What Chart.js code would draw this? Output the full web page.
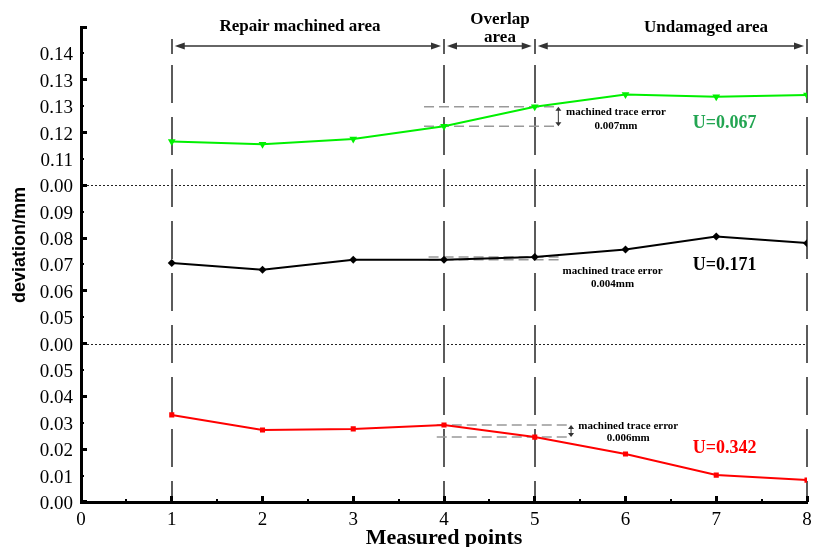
<!DOCTYPE html>
<html><head><meta charset="utf-8">
<script src="https://cdn.jsdelivr.net/npm/chart.js@4/dist/chart.umd.min.js"></script>
<style>html,body{margin:0;padding:0;background:#fff;}#wrap{width:819px;height:547px;}</style>
</head><body><div id="wrap"><canvas id="c" width="819" height="547"></canvas></div>
<script>
// ---- data ----
const points = [1, 2, 3, 4, 5, 6, 7, 8];
const greenVals = [0.1183, 0.1178, 0.1188, 0.1212, 0.1249, 0.1272, 0.1268, 0.1271];
const blackVals = [0.0706, 0.0680, 0.0718, 0.0718, 0.0728, 0.0757, 0.0806, 0.0781];
const redVals   = [0.0330, 0.0273, 0.0277, 0.0292, 0.0246, 0.0182, 0.0102, 0.0083];
const xTickValues = [0, 1, 2, 3, 4, 5, 6, 7, 8];
const topTickValues = [0.11, 0.115, 0.12, 0.125, 0.13, 0.135, 0.14];
const topTickLabels = ['', '0.11', '0.12', '0.13', '0.13', '0.14', ''];
const midTickValues = [0.04, 0.05, 0.06, 0.07, 0.08, 0.09, 0.10];
const midTickLabels = ['', '0.05', '0.06', '0.07', '0.08', '0.09', '0.00'];
const botTickValues = [0, 0.01, 0.02, 0.03, 0.04, 0.05, 0.06];
const botTickLabels = ['0.00', '0.01', '0.02', '0.03', '0.04', '0.05', '0.00'];
const regionBounds = [1, 4, 5, 8];
const regionNames = [['Repair machined area'], ['Overlap', 'area'], ['Undamaged area']];
const uLabels = ['U=0.067', 'U=0.171', 'U=0.342'];
const traceTitle = 'machined trace error';
const traceLabels = ['0.007mm', '0.004mm', '0.006mm'];
const xTitle = 'Measured points';
const yTitle = 'deviation/mm';

// ---- layout / style (not data) ----
const SERIF = "'Liberation Serif','Times New Roman',serif";
const SANS = "'Liberation Sans',Arial,sans-serif";
const GREEN = '#00f000', GREEN_TXT = '#23a552', RED = '#ff0000', BLACK = '#000000';
const regionLabelPos = [{x: 2.413, y: [27]}, {x: 4.617, y: [20, 38]}, {x: 6.887, y: [28]}];
const traceAnnots = [
  {axis: 'yTop', vals: greenVals, i: [4, 3], x1: 3.78, x2: 5.23, arrowX: 5.26, textX: 5.895, t1: 0.1238, t2: 0.1212},
  {axis: 'yMid', vals: blackVals, i: [4, 3], x1: 3.83, x2: 5.28, arrowX: null, textX: 5.857, t1: 0.0674, t2: 0.0627},
  {axis: 'yBot', vals: redVals, i: [3, 4], x1: 3.92, x2: 5.36, arrowX: 5.40, textX: 6.03, t1: 0.0288, t2: 0.0242}
];
const uPos = [
  {axis: 'yTop', x: 6.74, y: 0.1217, color: GREEN_TXT},
  {axis: 'yMid', x: 6.74, y: 0.0695, color: BLACK},
  {axis: 'yBot', x: 6.74, y: 0.0205, color: RED}
];

function mkY(vals, labels) {
  return {
    type: 'linear', position: 'left', stack: 'ystack', stackWeight: 1,
    min: vals[0], max: vals[vals.length - 1],
    afterBuildTicks: s => { s.ticks = vals.map(v => ({value: v})); },
    afterFit: s => { s.width = 81; },
    ticks: {callback: (v, i) => labels[i], font: {family: SERIF, size: 19}, color: '#000', padding: 8, autoSkip: false, labelOffset: 2},
    grid: {display: true, drawOnChartArea: false, drawTicks: false},
    border: {display: true, color: '#000', width: 3}
  };
}

function arrowHead(ctx, x, y, dir, len, half) {
  ctx.beginPath();
  if (dir === 'l') { ctx.moveTo(x, y); ctx.lineTo(x + len, y - half); ctx.lineTo(x + len, y + half); }
  if (dir === 'r') { ctx.moveTo(x, y); ctx.lineTo(x - len, y - half); ctx.lineTo(x - len, y + half); }
  if (dir === 'u') { ctx.moveTo(x, y); ctx.lineTo(x - half, y + len); ctx.lineTo(x + half, y + len); }
  if (dir === 'd') { ctx.moveTo(x, y); ctx.lineTo(x - half, y - len); ctx.lineTo(x + half, y - len); }
  ctx.closePath(); ctx.fill();
}

const decor = {
  id: 'decor',
  beforeDatasetsDraw(chart) {
    const {ctx, chartArea: a, scales} = chart;
    const x = scales.x;
    ctx.save();
    // break lines
    ctx.setLineDash([2, 2]); ctx.strokeStyle = '#222'; ctx.lineWidth = 1;
    [scales.yTop.getPixelForValue(scales.yTop.min), scales.yBot.getPixelForValue(scales.yBot.max)].forEach(py => {
      const yy = Math.round(py) + 0.5;
      ctx.beginPath(); ctx.moveTo(a.left + 2, yy); ctx.lineTo(a.right, yy); ctx.stroke();
    });
    // vertical region lines: end bars + dashed guides
    ctx.strokeStyle = '#4a4a4a'; ctx.lineWidth = 1.8;
    regionBounds.forEach(b => {
      const px = Math.round(x.getPixelForValue(b));
      ctx.setLineDash([]);
      ctx.beginPath(); ctx.moveTo(px, 39); ctx.lineTo(px, 54); ctx.stroke();
      ctx.setLineDash([38, 14]);
      ctx.beginPath(); ctx.moveTo(px, 65); ctx.lineTo(px, a.bottom); ctx.stroke();
    });
    // trace annotation dashed lines
    ctx.setLineDash([10, 5]); ctx.strokeStyle = '#999'; ctx.lineWidth = 1.5;
    traceAnnots.forEach(t => {
      const ys = scales[t.axis];
      t.i.forEach(k => {
        const py = ys.getPixelForValue(t.vals[k]);
        ctx.beginPath(); ctx.moveTo(x.getPixelForValue(t.x1), py); ctx.lineTo(x.getPixelForValue(t.x2), py); ctx.stroke();
      });
    });
    ctx.restore();
  },
  afterDraw(chart) {
    const {ctx, chartArea: a, scales} = chart;
    const x = scales.x;
    ctx.save();
    // y ticks (inward)
    ctx.fillStyle = '#000';
    [['yTop', topTickValues], ['yMid', midTickValues], ['yBot', botTickValues]].forEach(([id, vals]) => {
      const s = scales[id];
      vals.forEach((v, i) => {
        const py = s.getPixelForValue(v);
        const major = i % 2 === 0;
        const len = major ? 6 : 3, w = major ? 3 : 2;
        ctx.fillRect(a.left, Math.round(py - w / 2), len, w);
      });
    });
    // x ticks (inward)
    for (let v = 0; v <= 8; v += 0.5) {
      const px = x.getPixelForValue(v);
      const major = Number.isInteger(v);
      const len = major ? 6 : 3, w = major ? 3 : 2;
      ctx.fillRect(Math.round(px - w / 2), a.bottom - len, w, len);
    }
    // region arrows
    ctx.strokeStyle = '#333'; ctx.fillStyle = '#333'; ctx.lineWidth = 1.4;
    const ay = 46;
    for (let r = 0; r < regionBounds.length - 1; r++) {
      const p1 = x.getPixelForValue(regionBounds[r]) + 3;
      const p2 = x.getPixelForValue(regionBounds[r + 1]) - 3;
      ctx.beginPath(); ctx.moveTo(p1 + 6, ay); ctx.lineTo(p2 - 6, ay); ctx.stroke();
      arrowHead(ctx, p1, ay, 'l', 10, 3.5);
      arrowHead(ctx, p2, ay, 'r', 10, 3.5);
    }
    // region labels
    ctx.fillStyle = '#000'; ctx.textAlign = 'center'; ctx.textBaseline = 'middle';
    ctx.font = `bold 17px ${SERIF}`;
    regionNames.forEach((lines, r) => {
      const px = x.getPixelForValue(regionLabelPos[r].x);
      lines.forEach((ln, k) => ctx.fillText(ln, px, regionLabelPos[r].y[k]));
    });
    // trace annotations: arrows and text
    traceAnnots.forEach((t, n) => {
      const ys = scales[t.axis];
      const pa = ys.getPixelForValue(t.vals[t.i[0]]), pb = ys.getPixelForValue(t.vals[t.i[1]]);
      const top = Math.min(pa, pb), bot = Math.max(pa, pb);
      if (t.arrowX !== null) {
        const ax = x.getPixelForValue(t.arrowX);
        ctx.strokeStyle = '#333'; ctx.fillStyle = '#333'; ctx.lineWidth = 1;
        ctx.beginPath(); ctx.moveTo(ax, top + 3); ctx.lineTo(ax, bot - 3); ctx.stroke();
        arrowHead(ctx, ax, top, 'u', 4, 3);
        arrowHead(ctx, ax, bot, 'd', 4, 3);
      }
      ctx.fillStyle = '#000'; ctx.font = `bold 11px ${SERIF}`; ctx.textAlign = 'center';
      const tx = x.getPixelForValue(t.textX);
      ctx.fillText(traceTitle, tx, ys.getPixelForValue(t.t1));
      ctx.fillText(traceLabels[n], tx, ys.getPixelForValue(t.t2));
    });
    // U labels
    ctx.font = `bold 18px ${SERIF}`; ctx.textAlign = 'left';
    uPos.forEach((u, n) => {
      ctx.fillStyle = u.color;
      ctx.fillText(uLabels[n], x.getPixelForValue(u.x), scales[u.axis].getPixelForValue(u.y));
    });
    // y title
    ctx.fillStyle = '#000'; ctx.font = `bold 18px ${SANS}`; ctx.textAlign = 'center';
    ctx.translate(20, 245); ctx.rotate(-Math.PI / 2);
    ctx.fillText(yTitle, 0, 0);
    ctx.restore();
  }
};

new Chart(document.getElementById('c'), {
  type: 'line',
  data: {
    datasets: [
      {data: points.map((p, i) => ({x: p, y: greenVals[i]})), yAxisID: 'yTop', borderColor: GREEN, backgroundColor: GREEN,
       borderWidth: 2, pointStyle: 'triangle', pointRotation: 180, pointRadius: 4.5, pointBorderWidth: 0},
      {data: points.map((p, i) => ({x: p, y: blackVals[i]})), yAxisID: 'yMid', borderColor: BLACK, backgroundColor: BLACK,
       borderWidth: 2, pointStyle: 'rectRot', pointRadius: 4, pointBorderWidth: 0},
      {data: points.map((p, i) => ({x: p, y: redVals[i]})), yAxisID: 'yBot', borderColor: RED, backgroundColor: RED,
       borderWidth: 2, pointStyle: 'rect', pointRadius: 3.6, pointBorderWidth: 0}
    ]
  },
  options: {
    responsive: false, animation: false, devicePixelRatio: 1,
    layout: {padding: {top: 27, right: 12, left: 0, bottom: 0}},
    plugins: {legend: {display: false}, tooltip: {enabled: false}},
    elements: {line: {tension: 0}},
    scales: {
      x: {
        type: 'linear', position: 'bottom', min: 0, max: 8,
        afterBuildTicks: s => { s.ticks = xTickValues.map(v => ({value: v})); },
        afterFit: s => { s.height = 45; },
        ticks: {font: {family: SERIF, size: 19}, color: '#000', padding: 7},
        grid: {display: true, drawOnChartArea: false, drawTicks: false},
        border: {display: true, color: '#000', width: 3},
        title: {display: true, text: xTitle, color: '#000', font: {family: SERIF, size: 22, weight: 'bold', lineHeight: 1}, padding: {top: 0, bottom: -2}}
      },
      yBot: mkY(botTickValues, botTickLabels),
      yMid: mkY(midTickValues, midTickLabels),
      yTop: mkY(topTickValues, topTickLabels)
    }
  },
  plugins: [decor]
});
</script>
</body></html>
